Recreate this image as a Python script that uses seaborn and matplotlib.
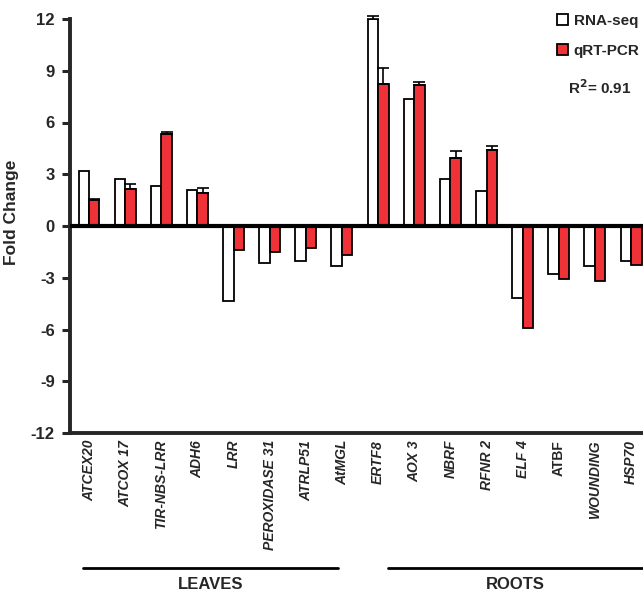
import matplotlib
matplotlib.use("Agg")
import matplotlib.pyplot as plt
import seaborn as sns
import pandas as pd
import numpy as np
from matplotlib.patches import Patch

genes = ["ATCEX20", "ATCOX 17", "TIR-NBS-LRR", "ADH6", "LRR", "PEROXIDASE 31",
         "ATRLP51", "AtMGL", "ERTF8", "AOX 3", "NBRF", "RFNR 2", "ELF 4", "ATBF",
         "WOUNDING", "HSP70"]
rnaseq = [3.2, 2.7, 2.3, 2.1, -4.35, -2.13, -2.0, -2.3,
          12.0, 7.35, 2.7, 2.03, -4.18, -2.79, -2.32, -2.0]
qrtpcr = [1.5, 2.13, 5.33, 1.9, -1.39, -1.51, -1.28, -1.7,
          8.25, 8.17, 3.95, 4.41, -5.94, -3.06, -3.18, -2.28]
rnaseq_err = [0, 0, 0, 0, 0, 0, 0, 0, 0.15, 0, 0, 0, 0, 0, 0, 0]
qrtpcr_err = [0.05, 0.31, 0.13, 0.31, 0, 0, 0, 0, 0.9, 0.15, 0.42, 0.23, 0, 0, 0, 0]
series = ["RNA-seq", "qRT-PCR"]
yticks = [-12, -9, -6, -3, 0, 3, 6, 9, 12]
groups = ["LEAVES", "ROOTS"]

sns.set_style("white")
plt.rcParams['font.family'] = ['Liberation Sans', 'DejaVu Sans']

df = pd.DataFrame({
    "gene": genes * 2,
    "method": [series[0]] * len(genes) + [series[1]] * len(genes),
    "value": rnaseq + qrtpcr,
})

fig = plt.figure(figsize=(6.43, 5.95), dpi=100)
ax = fig.add_axes([70 / 643, 1 - 433 / 595, 1 - 70 / 643, 414 / 595])

red = "#EE3237"
sns.barplot(data=df, x="gene", y="value", hue="method", order=genes,
            hue_order=series, palette=["white", red], width=0.58, gap=0,
            saturation=1, edgecolor="black", linewidth=1.3, ax=ax, legend=False,
            errorbar=None)

# error bars (upper only)
bars = ax.patches
n = len(genes)
for i, errs in enumerate([rnaseq_err, qrtpcr_err]):
    vals = [rnaseq, qrtpcr][i]
    for j in range(n):
        if errs[j] > 0:
            p = bars[i * n + j]
            xc = p.get_x() + p.get_width() / 2
            eb = ax.errorbar(xc, vals[j], yerr=[[0], [errs[j]]], fmt="none",
                             ecolor="black", elinewidth=1.2, capsize=4, capthick=1.2,
                             zorder=1)
            for art in eb.lines[1] + eb.lines[2]:
                art.set_clip_on(False)

ax.axhline(0, color="black", lw=3, zorder=5)
ax.set_ylim(-12, 12)
ax.set_xlim(-0.526, 15.33)
ax.set_yticks(yticks)
ax.set_yticklabels([str(t) for t in yticks], fontsize=12, fontweight="bold")
ax.tick_params(axis="y", direction="out", length=6, width=2.2, pad=5, left=True)
ax.tick_params(axis="x", length=0, pad=5)
ax.set_xticks(range(n))
ax.set_xticklabels(genes, rotation=90, fontsize=10, fontweight="bold")
for lbl in ax.get_xticklabels():
    if lbl.get_text() != "ATBF":
        lbl.set_fontstyle("italic")

ax.set_xlabel("")
ax.set_ylabel("Fold Change", fontsize=12.5, fontweight="bold")
ax.yaxis.set_label_coords(-0.089, 0.534)

for s in ["top", "right"]:
    ax.spines[s].set_visible(False)
ax.spines["left"].set_linewidth(2.8)
ax.spines["bottom"].set_linewidth(2.8)

# group lines
trans = ax.get_xaxis_transform()
spans = [(-0.17, 6.89), (8.28, 15.33)]
for name, (a, b) in zip(groups, spans):
    ax.plot([a, b], [-0.326, -0.326], color="black", lw=2, transform=trans, clip_on=False)
    ax.text((a + b) / 2, -0.365, name, transform=trans, ha="center", va="center",
            fontsize=12, fontweight="bold")

# legend
handles = [Patch(facecolor="white", edgecolor="black", lw=1.3),
           Patch(facecolor=red, edgecolor="black", lw=1.3)]
leg = fig.legend(handles, series, loc="upper left", bbox_to_anchor=(557 / 643, 1 - 14 / 595),
                 frameon=False, handlelength=0.75, handleheight=0.75, handletextpad=0.35,
                 labelspacing=1.05, borderaxespad=0, borderpad=0,
                 prop={"weight": "bold", "size": 11})
fig.text(568 / 643, 1 - 88 / 595, r"R$^\mathbf{2}$= 0.91", fontsize=11, fontweight="bold",
         ha="left", va="center")

fig.savefig("out.png", dpi=100)
